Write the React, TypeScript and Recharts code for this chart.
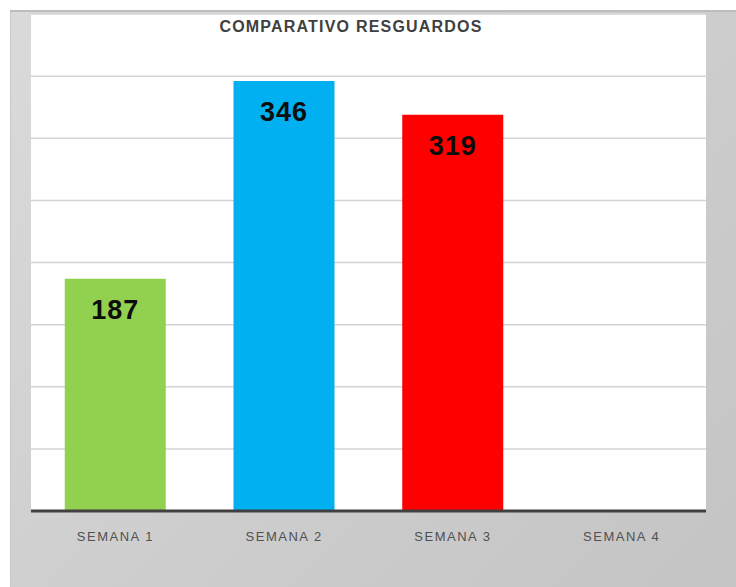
import { Bar, BarChart, CartesianGrid, Cell, LabelList, XAxis, YAxis } from "recharts";

const categories = ["SEMANA 1", "SEMANA 2", "SEMANA 3", "SEMANA 4"];
const values: (number | null)[] = [187, 346, 319, null];
const barColors = ["#92d050", "#00b0f0", "#ff0000", "#ffc000"];
const yTicks = [0, 50, 100, 150, 200, 250, 300, 350, 400];

const data = categories.map((name, i) => ({ name, value: values[i] }));

function WeekTick(props: any) {
  const { x, y, payload } = props;
  return (
    <text
      x={x}
      y={y + 22}
      textAnchor="middle"
      fontFamily="'Liberation Sans', Arial, sans-serif"
      fontSize={13}
      letterSpacing={1.5}
      fill="#505050"
    >
      {payload.value}
    </text>
  );
}

function ValueLabel(props: any) {
  const { x, y, width, value } = props;
  if (value == null) return null;
  return (
    <text
      x={x + width / 2}
      y={y + 40}
      textAnchor="middle"
      fontFamily="'Liberation Sans', Arial, sans-serif"
      fontWeight="bold"
      fontSize={27}
      letterSpacing={1}
      fill="#0d0d0d"
    >
      {value}
    </text>
  );
}

export default function App() {
  return (
    <div
      style={{
        position: "absolute",
        left: 0,
        top: 0,
        width: 736,
        height: 587,
        background: "#fff",
        overflow: "hidden",
      }}
    >
      <div
        style={{
          position: "absolute",
          left: 10,
          top: 10,
          width: 726,
          height: 577,
          borderTop: "2px solid #bdbdbd",
          borderLeft: "1px solid #c8c8c8",
          background: "linear-gradient(135deg, #dadada 0%, #cccccc 60%, #c4c4c4 100%)",
        }}
      />
      <div style={{ position: "absolute", left: 0, top: 0 }}>
        <BarChart
          width={736}
          height={587}
          data={data}
          margin={{ top: 14, right: 30, left: 31, bottom: 0 }}
          barCategoryGap="20%"
        >
          <CartesianGrid
            vertical={false}
            fill="#ffffff"
            stroke="#d4d4d4"
            strokeWidth={1.5}
          />
          <YAxis hide domain={[0, 400]} ticks={yTicks} />
          <XAxis
            dataKey="name"
            height={76}
            tickLine={false}
            axisLine={{ stroke: "#404040", strokeWidth: 3 }}
            tick={<WeekTick />}
            interval={0}
          />
          <Bar dataKey="value" isAnimationActive={false}>
            {data.map((d, i) => (
              <Cell key={d.name} fill={barColors[i]} />
            ))}
            <LabelList dataKey="value" content={<ValueLabel />} />
          </Bar>
        </BarChart>
      </div>
      <div
        style={{
          position: "absolute",
          left: 0,
          width: 702,
          top: 18,
          textAlign: "center",
          fontFamily: "'Liberation Sans', Arial, sans-serif",
          fontWeight: "bold",
          fontSize: 16,
          letterSpacing: 1.2,
          color: "#404040",
        }}
      >
        COMPARATIVO RESGUARDOS
      </div>
    </div>
  );
}
